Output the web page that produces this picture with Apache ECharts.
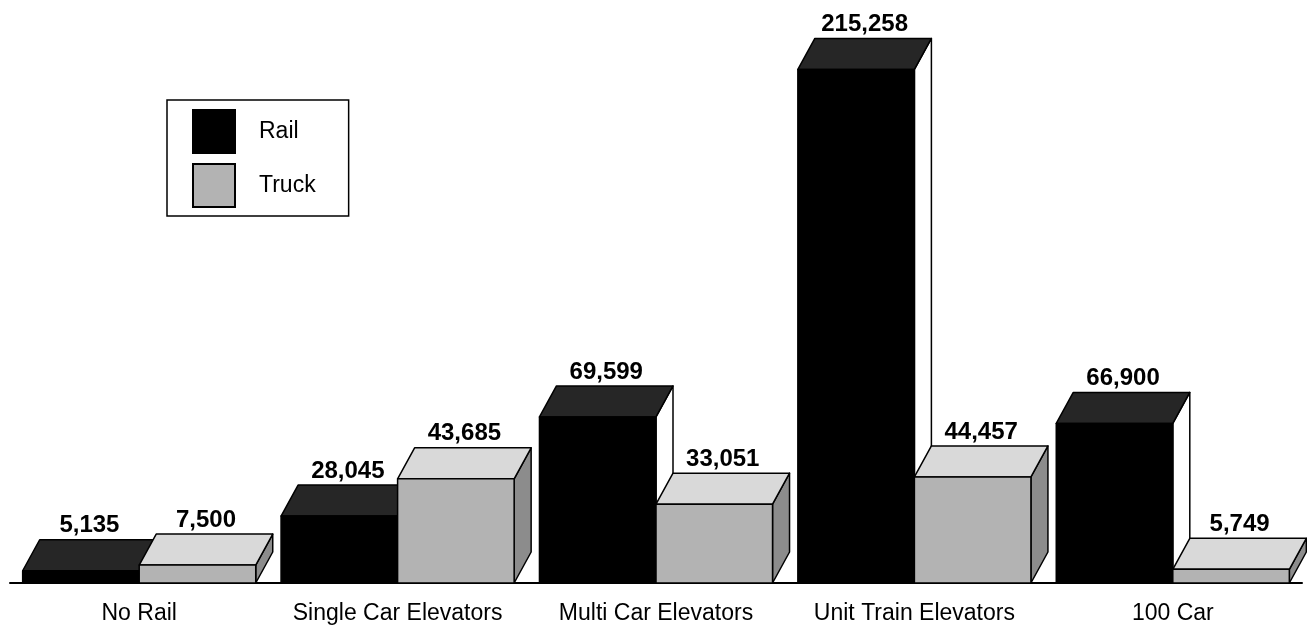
<!DOCTYPE html>
<html><head><meta charset="utf-8">
<script src="https://cdn.jsdelivr.net/npm/echarts@6/dist/echarts.min.js"></script>
<style>html,body{margin:0;padding:0;background:#fff}#c{width:1307px;height:627px}</style>
</head><body><div id="c"></div>
<script>
const categories = ['No Rail','Single Car Elevators','Multi Car Elevators','Unit Train Elevators','100 Car'];
const rail = [5135, 28045, 69599, 215258, 66900];
const truck = [7500, 43685, 33051, 44457, 5749];

const DX = 17, DY = 31;
function makeRender(side, front, topC, sideC) {
  return function (params, api) {
    const idx = api.value(0), v = api.value(1);
    const base = api.coord([idx, 0]);
    const top = api.coord([idx, v]);
    const band = api.size([1, 0])[0];
    const w = band * 0.451;
    const x0 = side === 0 ? base[0] - w : base[0];
    const x1 = x0 + w;
    const yb = base[1], yt = top[1];
    const st = (fill) => ({ fill: fill, stroke: '#000', lineWidth: 1.5, lineJoin: 'round' });
    return {
      type: 'group',
      children: [
        { type: 'polygon', shape: { points: [[x1, yt], [x1 + DX, yt - DY], [x1 + DX, yb - DY], [x1, yb]] }, style: st(sideC) },
        { type: 'polygon', shape: { points: [[x0, yt], [x0 + DX, yt - DY], [x1 + DX, yt - DY], [x1, yt]] }, style: st(topC) },
        { type: 'rect', shape: { x: x0, y: yt, width: w, height: yb - yt }, style: st(front) },
        { type: 'text', style: { x: (x0 + x1) / 2 + DX / 2, y: yt - DY - 2, text: v.toLocaleString('en-US'),
            textAlign: 'center', textVerticalAlign: 'bottom', fill: '#000',
            font: 'bold 24px "Liberation Sans", Arial, sans-serif' } }
      ]
    };
  };
}

const chart = echarts.init(document.getElementById('c'), null, { renderer: 'canvas' });
chart.setOption({
  animation: false,
  backgroundColor: '#fff',
  grid: { left: 10, right: 5, top: 20, bottom: 44 },
  xAxis: {
    type: 'category', data: categories,
    axisLine: { lineStyle: { color: '#000', width: 2 } },
    axisTick: { show: false },
    axisLabel: { color: '#000', fontSize: 23, fontFamily: '"Liberation Sans", Arial, sans-serif', margin: 19,
      interval: 0, hideOverlap: false }
  },
  yAxis: { type: 'value', min: 0, max: 236000, show: false, splitLine: { show: false } },
  legend: {
    left: 167, top: 100, orient: 'vertical',
    borderColor: '#000', borderWidth: 1.5, padding: [9, 33, 8, 25],
    itemWidth: 42, itemHeight: 43, itemGap: 9,
    icon: 'rect',
    textStyle: { color: '#000', fontSize: 23, fontFamily: '"Liberation Sans", Arial, sans-serif', padding: [0, 0, 4, 19] },
    data: ['Rail', 'Truck']
  },
  series: [
    { name: 'Rail', type: 'custom', renderItem: makeRender(0, '#000000', '#262626', '#ffffff'),
      itemStyle: { color: '#000000', borderColor: '#000', borderWidth: 2 },
      data: rail.map((v, i) => [i, v]), encode: { x: 0, y: 1 }, z: 2 },
    { name: 'Truck', type: 'custom', renderItem: makeRender(1, '#b3b3b3', '#d9d9d9', '#8c8c8c'),
      itemStyle: { color: '#b3b3b3', borderColor: '#000', borderWidth: 2 },
      data: truck.map((v, i) => [i, v]), encode: { x: 0, y: 1 }, z: 3 }
  ]
});
</script></body></html>
